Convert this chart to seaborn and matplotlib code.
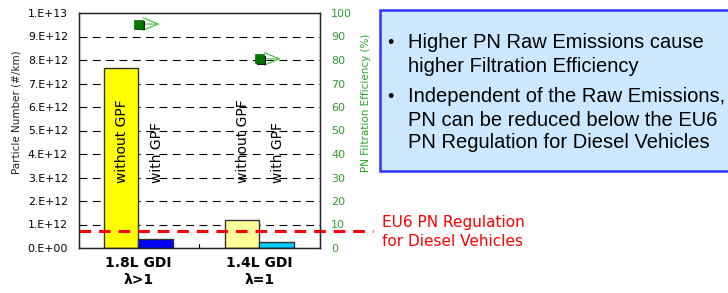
import matplotlib

matplotlib.use("Agg")
import matplotlib.pyplot as plt
import matplotlib.patheffects as pe
import pandas
import seaborn as sns
from matplotlib.patches import Rectangle

# Chart values
engines = ["1.8L GDI\nλ>1", "1.4L GDI\nλ=1"]
configs = ["without GPF", "with GPF"]
pn_without = [7.65e12, 1.19e12]
pn_with = [0.38e12, 0.24e12]
efficiency = [95.3, 80.5]
eu6_limit = 0.72e12
left_ticks = [0, 1e12, 2e12, 3e12, 4e12, 5e12, 6e12, 7e12, 8e12, 9e12, 1e13]
left_labels = ["0.E+00", "1.E+12", "2.E+12", "3.E+12", "4.E+12", "5.E+12",
               "6.E+12", "7.E+12", "8.E+12", "9.E+12", "1.E+13"]
bullets = [
    ["Higher PN Raw Emissions cause", "higher Filtration Efficiency"],
    ["Independent of the Raw Emissions,", "PN can be reduced below the EU6",
     "PN Regulation for Diesel Vehicles"],
]

# bar colours: one per (config, engine)
bar_colors = {
    ("without GPF", 0): "#ffff00",
    ("without GPF", 1): "#ffff99",
    ("with GPF", 0): "#0000ff",
    ("with GPF", 1): "#00ccff",
}

green = "#339933"

df = pandas.DataFrame({
    "engine": engines * 2,
    "config": [configs[0]] * 2 + [configs[1]] * 2,
    "pn": pn_without + pn_with,
})
eff = pandas.DataFrame({"engine": engines, "eff": efficiency})

sns.set_style("white")
plt.rcParams["font.family"] = ["DejaVu Sans"]
plt.rcParams["text.color"] = "black"
plt.rcParams["xtick.color"] = "black"
plt.rcParams["ytick.color"] = "black"

fig = plt.figure(figsize=(7.28, 2.93), dpi=100)
ax = fig.add_axes([79 / 728, 1 - 248 / 293, 241 / 728, 235 / 293])

sns.barplot(data=df, x="engine", y="pn", hue="config", hue_order=configs,
            order=engines, width=0.57, gap=0, legend=False, ax=ax,
            edgecolor="#333333", linewidth=1, zorder=2)

# recolour bars, patches come hue by hue
bars = [p for p in ax.patches]
idx = 0
for c in configs:
    for i in range(len(engines)):
        bars[idx].set_facecolor(bar_colors[(c, i)])
        bars[idx].set_alpha(None)
        cx = bars[idx].get_x() + bars[idx].get_width() / 2
        ax.text(cx + (0.012 if c == "with GPF" else 0.005), 2.78e12, c,
                rotation=90, ha="center", va="bottom", fontsize=10,
                color="black", zorder=4)
        idx += 1

ax.set_ylim(0, 1e13)
ax.set_xlim(-0.49, 1.5)
ax.set_yticks(left_ticks)
ax.set_yticklabels(left_labels, fontsize=7.8)
for y in left_ticks[1:-1]:
    ax.axhline(y, color="black", lw=0.8, dashes=(7, 5), zorder=1)
ax.set_xticks([0, 1])
ax.set_xticklabels(engines, fontsize=10, fontweight="bold", linespacing=1.25)
ax.tick_params(axis="x", length=0, pad=6)
ax.tick_params(axis="y", length=0, pad=8)
ax.set_xlabel("")
ax.set_ylabel("")
# small middle tick at the bottom
ax.plot([0.5, 0.5], [0, 0.15e12], color="black", lw=0.8, zorder=3)
for s in ax.spines.values():
    s.set_color("black")
    s.set_linewidth(1)

# EU6 limit, runs past the axes to the label
ax.axhline(eu6_limit, xmin=0, xmax=(373 - 79) / 241, color="#ff0000",
           lw=2.2, dashes=(3.8, 2.6), clip_on=False, zorder=5)

fig.text(17 / 728, 1 - 112 / 293, "Particle Number (#/km)", rotation=90,
         ha="center", va="center", fontsize=7.5, color="#222222")

# efficiency on the right axis
ax2 = ax.twinx()
ax2.set_ylim(0, 100)
ax2.set_yticks(range(0, 101, 10))
ax2.tick_params(axis="y", length=0, pad=8, labelsize=8, labelcolor=green)
sns.scatterplot(data=eff, x="engine", y="eff", marker="s", s=42,
                color="#007700", edgecolor="#006600", linewidth=0.5, ax=ax2,
                zorder=6, legend=False,
                path_effects=[pe.SimplePatchShadow(offset=(1.2, -1.2),
                                                   shadow_rgbFace="black",
                                                   alpha=0.9), pe.Normal()])
for i, v in enumerate(efficiency):
    ax2.annotate("", xy=(i + 0.2, v), xytext=(i + 0.03, v),
                 arrowprops=dict(arrowstyle="->,head_length=1.1,head_width=0.45",
                                 color="#44bb44", lw=0.8))
ax2.set_xlim(-0.49, 1.5)
ax2.set_xlabel("")
ax2.set_ylabel("")
fig.text(366 / 728, 1 - 103 / 293, "PN Filtration Efficiency (%)", rotation=90,
         ha="center", va="center", fontsize=7.5, color="#22aa22")

# red label for the limit line
fig.text(382 / 728, 1 - 222 / 293, "EU6 PN Regulation", ha="left", va="center",
         fontsize=11, color="#ff0000")
fig.text(382 / 728, 1 - 242 / 293, "for Diesel Vehicles", ha="left", va="center",
         fontsize=11, color="#ff0000")

# info box
fig.patches.append(Rectangle((380 / 728, 1 - 171 / 293), 360 / 728, 161 / 293,
                             transform=fig.transFigure, facecolor="#cce8ff",
                             edgecolor="#3333ff", lw=1.8, zorder=0))
y = 43
for group in bullets:
    fig.text(387 / 728, 1 - y / 293, "•", ha="left", va="center",
             fontsize=13, family="Liberation Sans", color="black")
    for line in group:
        fig.text(408 / 728, 1 - y / 293, line, ha="left", va="center",
                 fontsize=14.5, family="Liberation Sans", color="black")
        y += 23
    y += 8

fig.savefig("out.png", dpi=100)
